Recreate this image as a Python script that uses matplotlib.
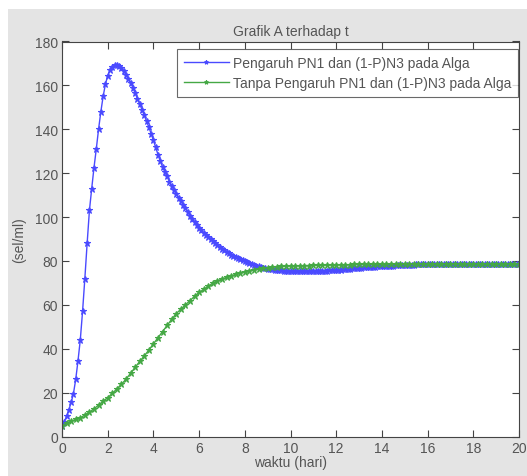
import numpy as np
import matplotlib
matplotlib.use("Agg")
import matplotlib.pyplot as plt
from matplotlib.patches import Rectangle

plt.rcParams['font.family'] = ['Liberation Sans', 'DejaVu Sans']

# ---- data ----
t_blue_start, t_blue_end, t_blue_n = 0.0, 20.0, 201
blue_vals = [
    5.0, 6.8, 9.2, 12.2, 15.5, 19.5, 26.0, 34.5, 44.0, 57.0,
    72.0, 88.0, 103.0, 113.0, 122.5, 131.0, 140.0, 148.0, 155.0, 160.5,
    164.5, 167.0, 168.6, 169.3, 169.5, 169.0, 168.0, 166.7, 164.8, 163.0,
    161.3, 159.0, 156.5, 154.0, 151.5, 149.0, 146.3, 143.6, 141.0, 138.0,
    135.0, 131.7, 128.5, 125.5, 122.8, 120.6, 118.5, 116.2, 114.0, 112.2,
    110.5, 108.8, 107.2, 105.7, 104.2, 102.3, 100.5, 99.1, 97.8, 96.4,
    95.0, 93.9, 92.8, 91.9, 90.9, 90.0, 89.0, 88.0, 87.1, 86.3,
    85.5, 84.8, 84.1, 83.5, 82.9, 82.3, 81.8, 81.3, 80.8, 80.3,
    79.8, 79.4, 79.0, 78.6, 78.2, 77.8, 77.5, 77.2, 77.0, 76.7,
    76.5, 76.3, 76.2, 76.0, 75.9, 75.8, 75.7, 75.6, 75.6, 75.5,
    75.5, 75.5, 75.4, 75.4, 75.4, 75.4, 75.4, 75.3, 75.3, 75.3,
    75.4, 75.4, 75.4, 75.5, 75.5, 75.6, 75.6, 75.7, 75.8, 75.8,
    75.9, 76.0, 76.1, 76.2, 76.3, 76.4, 76.5, 76.6, 76.7, 76.8,
    76.9, 77.0, 77.1, 77.1, 77.2, 77.3, 77.4, 77.4, 77.5, 77.6,
    77.6, 77.7, 77.8, 77.8, 77.9, 77.9, 78.0, 78.0, 78.1, 78.1,
    78.2, 78.2, 78.3, 78.3, 78.3, 78.4, 78.4, 78.4, 78.4, 78.5,
    78.5, 78.5, 78.5, 78.5, 78.6, 78.6, 78.6, 78.6, 78.6, 78.6,
    78.6, 78.6, 78.6, 78.6, 78.6, 78.7, 78.7, 78.7, 78.7, 78.7,
    78.7, 78.7, 78.7, 78.7, 78.7, 78.7, 78.7, 78.7, 78.7, 78.7,
    78.7, 78.7, 78.7, 78.7, 78.7, 78.7, 78.7, 78.7, 78.7, 78.7,
    78.7,
]

t_green_start, t_green_end, t_green_n = 0.0, 20.0, 101
green_vals = [
    5.0, 6.0, 7.0, 7.8, 8.5, 9.8, 11.1, 12.6, 14.3, 16.1,
    17.7, 19.6, 21.7, 23.8, 26.1, 28.8, 31.5, 34.2, 36.7, 39.4,
    42.2, 45.0, 47.8, 50.6, 53.4, 56.0, 58.0, 60.0, 61.9, 63.9,
    65.7, 67.0, 68.4, 69.9, 70.9, 71.8, 72.5, 73.2, 73.9, 74.5,
    75.0, 75.5, 75.9, 76.3, 76.6, 76.9, 77.2, 77.4, 77.5, 77.6,
    77.7, 77.8, 77.8, 77.9, 77.9, 78.0, 78.0, 78.1, 78.1, 78.2,
    78.2, 78.3, 78.3, 78.3, 78.4, 78.4, 78.4, 78.5, 78.5, 78.5,
    78.5, 78.6, 78.6, 78.6, 78.6, 78.6, 78.6, 78.7, 78.7, 78.7,
    78.7, 78.7, 78.7, 78.7, 78.7, 78.7, 78.7, 78.7, 78.7, 78.7,
    78.7, 78.7, 78.7, 78.7, 78.7, 78.7, 78.7, 78.7, 78.7, 78.7,
    78.7,
]

label_blue = "Pengaruh PN1 dan (1-P)N3 pada Alga"
label_green = "Tanpa Pengaruh PN1 dan (1-P)N3 pada Alga"
title = "Grafik A terhadap t"
xlabel = "waktu (hari)"
ylabel = "(sel/ml)"
xticks = [0, 2, 4, 6, 8, 10, 12, 14, 16, 18, 20]
yticks = [0, 20, 40, 60, 80, 100, 120, 140, 160, 180]

t_blue = np.linspace(t_blue_start, t_blue_end, t_blue_n)
t_green = np.linspace(t_green_start, t_green_end, t_green_n)

# ---- figure ----
fig = plt.figure(figsize=(5.27, 4.77), dpi=100, facecolor='white')
fig.patches.append(Rectangle((8/527, 0), 1, 1 - 10/477, transform=fig.transFigure,
                             facecolor='#e4e4e4', edgecolor='none', zorder=-10))
ax = fig.add_axes([62/527, 1 - 437.5/477, 457/527, 395/477])
ax.set_facecolor('white')

blue = '#4a4aff'
green = '#45a845'
ax.plot(t_blue, blue_vals, '-', color=blue, lw=1.0, marker='*', ms=4.5,
        mew=0.8, label=label_blue)
ax.plot(t_green, green_vals, '-', color=green, lw=1.0, marker='*', ms=4.5,
        mew=0.8, label=label_green)

ax.set_xlim(0, 20)
ax.set_ylim(0, 180)
ax.set_xticks(xticks)
ax.set_yticks(yticks)
txtc = '#555555'
ax.tick_params(direction='in', top=True, right=True, length=5, width=0.8,
               colors='#444444', labelcolor=txtc, labelsize=10, pad=3)
for s in ax.spines.values():
    s.set_color('#444444')
    s.set_linewidth(0.8)

ax.set_title(title, fontsize=10, color=txtc, pad=5)
ax.set_xlabel(xlabel, fontsize=10, color=txtc, labelpad=0)
ax.set_ylabel(ylabel, fontsize=10, color=txtc, labelpad=6)

leg = ax.legend(loc='upper right', bbox_to_anchor=(0.998, 0.981), borderaxespad=0,
                fontsize=10, handlelength=3.2, frameon=True, fancybox=False,
                borderpad=0.5, labelspacing=0.45, handletextpad=0.3)
leg.get_frame().set_edgecolor('#444444')
leg.get_frame().set_linewidth(0.8)
for txt in leg.get_texts():
    txt.set_color(txtc)
for h in leg.get_lines():
    h.set_markersize(3)

fig.savefig('out.png', dpi=100, facecolor=fig.get_facecolor())
